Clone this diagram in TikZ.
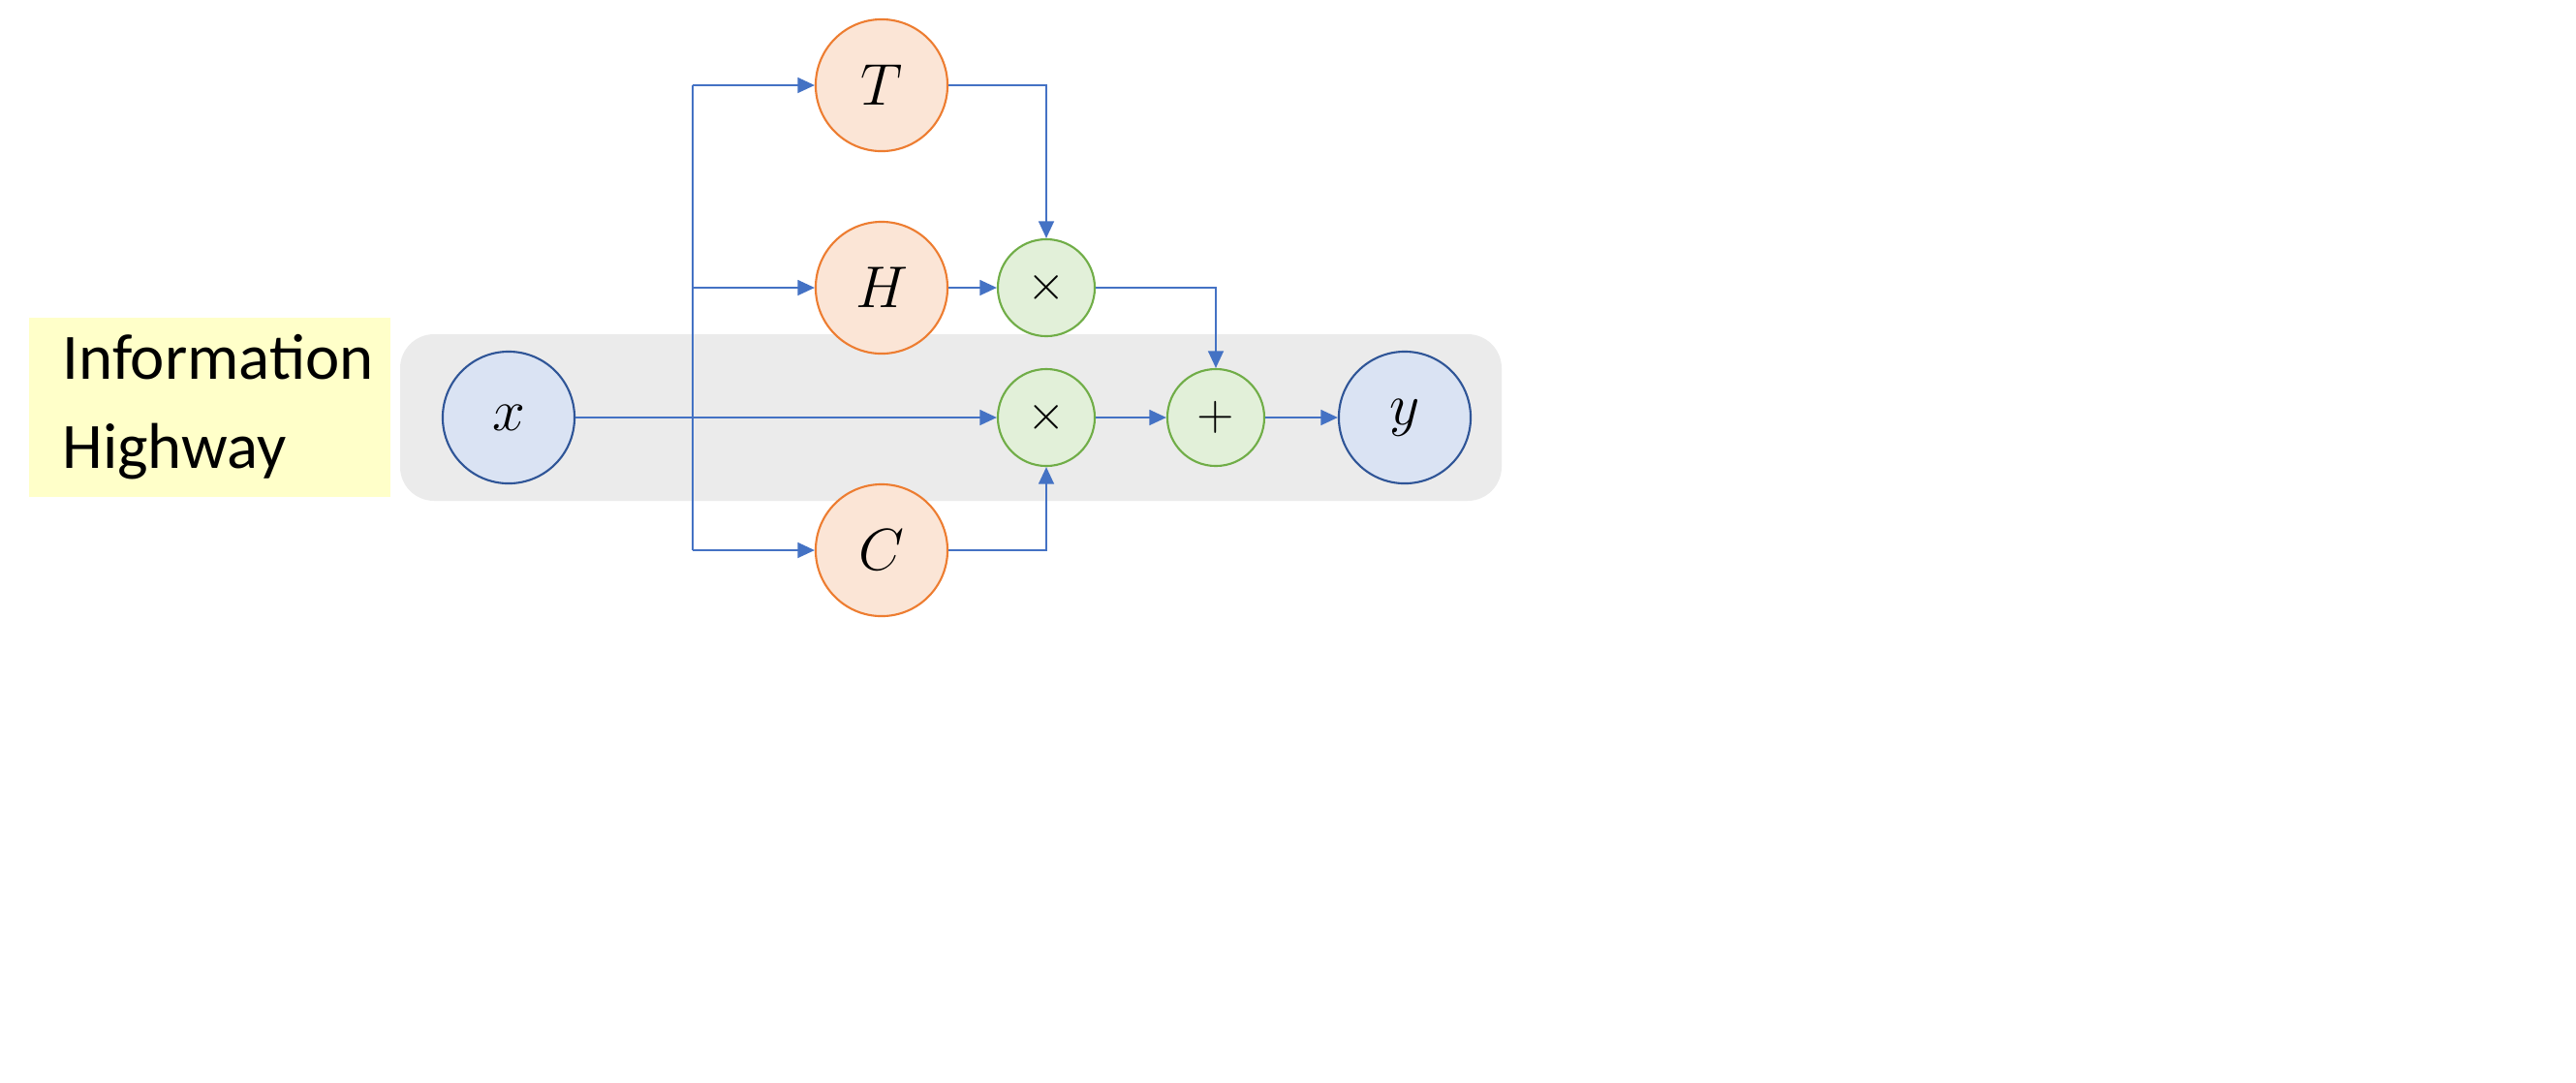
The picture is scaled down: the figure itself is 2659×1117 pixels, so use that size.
\documentclass[tikz,border=0pt]{standalone}
\usepackage{fontspec}
\newfontfamily\labfont{Carlito}
\usetikzlibrary{arrows.meta}
\definecolor{ablue}{HTML}{4472C4}
\definecolor{yel}{HTML}{FFFFC9}
\definecolor{gry}{HTML}{EBEBEB}
\definecolor{iofill}{HTML}{DAE3F3}
\definecolor{iodraw}{HTML}{2F5597}
\definecolor{gfill}{HTML}{FBE5D6}
\definecolor{gdraw}{HTML}{ED7D31}
\definecolor{ofill}{HTML}{E2F0D9}
\definecolor{odraw}{HTML}{70AD47}
\begin{document}
\begin{tikzpicture}[x=0.01cm,y=-0.01cm,
 big/.style={circle,inner sep=0,line width=0.6pt,font=\fontsize{17}{19}\selectfont},
 io/.style={big,minimum size=1.36cm,fill=iofill,draw=iodraw},
 gate/.style={big,minimum size=1.36cm,fill=gfill,draw=gdraw},
 op/.style={circle,minimum size=1.0cm,inner sep=0,line width=0.6pt,fill=ofill,draw=odraw,font=\fontsize{15}{17}\selectfont},
 ar/.style={draw=ablue,line width=0.6pt,-{Triangle[length=5pt,width=4.5pt]}},
 ln/.style={draw=ablue,line width=0.6pt}]
\useasboundingbox (0,0) rectangle (2659,1117);
\fill[yel] (30,328) rectangle (403,513);
\node[font=\labfont\fontsize{19}{26}\selectfont,align=left,anchor=west] (lab) at (52,420) {Information\\Highway};
\fill[gry,rounded corners=0.35cm] (413,345) rectangle (1550,517);
\node[io] (x) at (525,431) {$x$};
\node[io] (y) at (1450,431) {$y$};
\node[gate] (T) at (910,88) {$T$};
\node[gate] (H) at (910,297) {$H$};
\node[gate] (C) at (910,568) {$C$};
\node[op] (m1) at (1080,297) {$\times$};
\node[op] (m2) at (1080,431) {$\times$};
\node[op] (p) at (1255,431) {$+$};
\coordinate (vt) at (715,88);
\coordinate (vc) at (715,568);
\coordinate (vh) at (715,297);
\draw[ln] (vt) -- (vc);
\draw[ar] (vt) -- (T);
\draw[ar] (vh) -- (H);
\draw[ar] (vc) -- (C);
\draw[ar] (x) -- (m2);
\draw[ar] (T.east) -| (m1);
\draw[ar] (H) -- (m1);
\draw[ar] (m1.east) -| (p);
\draw[ar] (C.east) -| (m2);
\draw[ar] (m2) -- (p);
\draw[ar] (p) -- (y);
\end{tikzpicture}
\end{document}
